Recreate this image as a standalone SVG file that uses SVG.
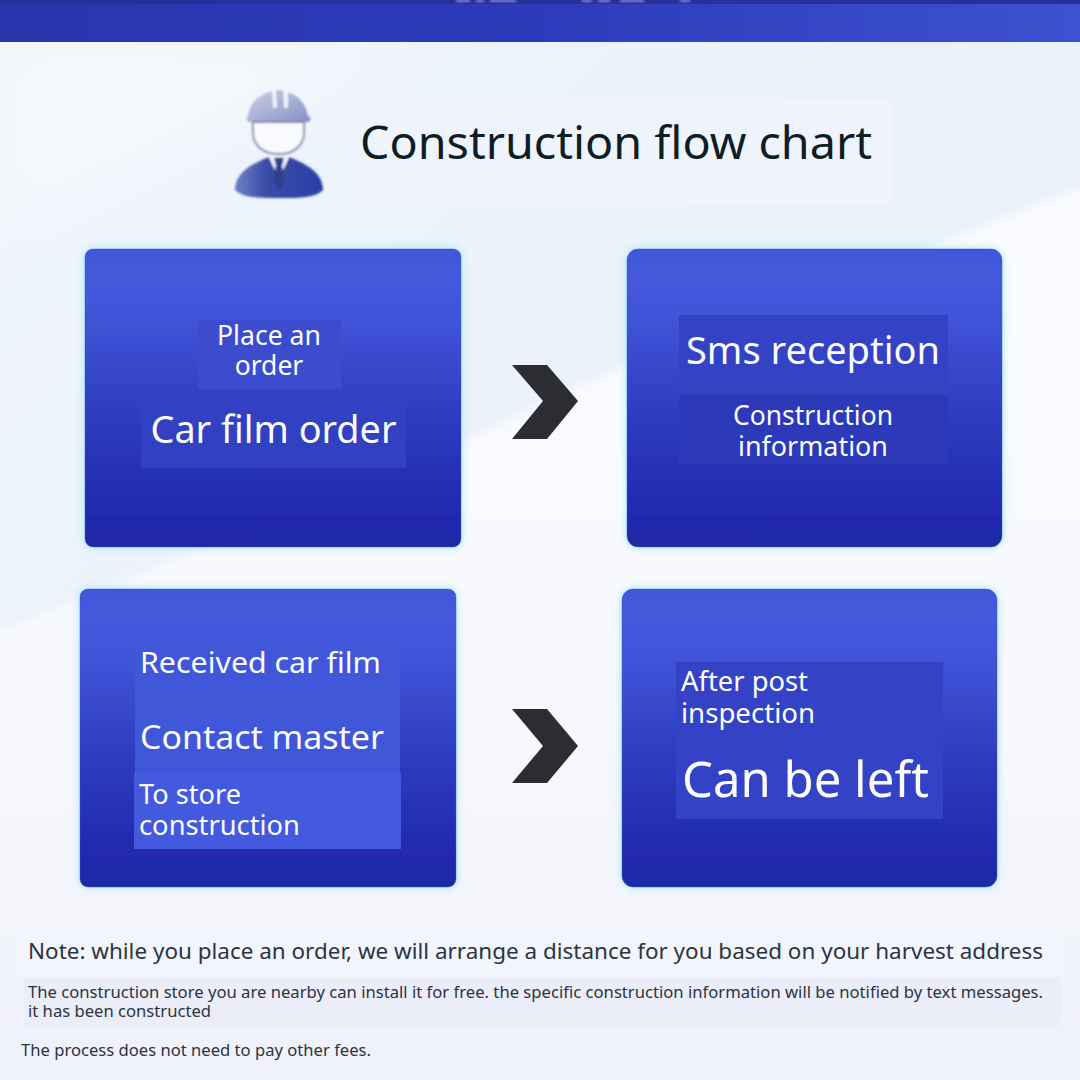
<svg xmlns="http://www.w3.org/2000/svg" width="1080" height="1080" viewBox="0 0 1080 1080">
<style>
text{font-family:"Noto Sans","Open Sans","DejaVu Sans",sans-serif}
.w{fill:#fbfcff}
.d{fill:#2c3440}
.card{fill:url(#cardG);stroke:#2f58b8;stroke-opacity:.55;stroke-width:1;filter:url(#glow)}
.chev{fill:#2c2c33}
</style>
<defs>
<linearGradient id="cardG" x1="0" y1="0" x2="0" y2="1">
<stop offset="0" stop-color="#3f58d8"/><stop offset=".08" stop-color="#465ade"/><stop offset=".25" stop-color="#4053d8"/><stop offset=".55" stop-color="#2e3dc0"/><stop offset=".9" stop-color="#2028ae"/><stop offset="1" stop-color="#1f2aa4"/>
</linearGradient>
<linearGradient id="barG" x1="0" y1="0" x2="1" y2="0">
<stop offset="0" stop-color="#2836ad"/><stop offset=".5" stop-color="#2c3bbb"/><stop offset="1" stop-color="#3d52d0"/>
</linearGradient>
<linearGradient id="bg" x1="0" y1="0" x2="1" y2="1">
<stop offset="0" stop-color="#f1f6fc"/><stop offset=".25" stop-color="#edf3fb"/><stop offset=".55" stop-color="#e9f1fa"/><stop offset="1" stop-color="#e8edf9"/>
</linearGradient>
<linearGradient id="low" x1="0" y1="0" x2="0" y2="1">
<stop offset="0" stop-color="#fafbfe"/><stop offset=".6" stop-color="#f7f8fd"/><stop offset="1" stop-color="#eff1fa"/>
</linearGradient>
<linearGradient id="suit" x1="0" y1="0" x2="1" y2="0">
<stop offset="0" stop-color="#6f80c8"/><stop offset=".35" stop-color="#3a4da8"/><stop offset="1" stop-color="#2a3ea6"/>
</linearGradient>
<linearGradient id="hat" x1="0" y1="0" x2="1" y2="1">
<stop offset="0" stop-color="#ccd1e6"/><stop offset="1" stop-color="#8590c4"/>
</linearGradient>
<filter id="glow" x="-5%" y="-5%" width="110%" height="110%"><feDropShadow dx="0" dy="0" stdDeviation="4" flood-color="#a0e4fb"/></filter>
<filter id="soft"><feGaussianBlur stdDeviation="1"/></filter>
<filter id="blur"><feGaussianBlur stdDeviation="5"/></filter>
<filter id="blur2"><feGaussianBlur stdDeviation="30"/></filter>
</defs>

<g id="background">
<rect width="1080" height="1080" fill="url(#bg)"/>
<path d="M-20 640 L500 425 L580 385 L1100 180 L1100 1100 L-20 1100Z" fill="url(#low)" filter="url(#blur)"/>
<path d="M0 42 L420 42 L0 230Z" fill="#f5f8fd" filter="url(#blur2)"/>
<rect x="352" y="100" width="540" height="104" fill="#eff4fc"/>
<rect x="20" y="925" width="1042" height="52" fill="#f3f5fc"/>
<rect y="0" width="1080" height="42" fill="url(#barG)"/>
<rect y="0" width="1080" height="4" fill="#26319c"/>
<g fill="#cfd6f4" opacity=".6" filter="url(#soft)"><rect x="456" y="0" width="14" height="2"/><rect x="476" y="0" width="8" height="2"/><rect x="490" y="0" width="26" height="2"/><rect x="582" y="0" width="10" height="2"/><rect x="598" y="0" width="12" height="2"/><rect x="620" y="0" width="24" height="2"/><rect x="680" y="0" width="10" height="2"/></g>
</g>

<g id="worker-icon" filter="url(#soft)">
<path d="M248 116 C250 103 258 95 272 91 L273 108 L277 108 L276 90 L283 90 L284 108 L288 108 L288 92 C299 96 306 104 308 116 L311 118 L309 122 L248 122 L246 118 Z" fill="url(#hat)"/>
<path d="M253 122 L304 122 L304 132 C304 146 293 154 279 154 C264 154 253 146 253 132 Z" fill="#f8faff" stroke="#7d84a0" stroke-width="1.800"/>
<path d="M235 190 C235 174 249 165 269 157 L279 178 L289 157 C309 165 323 174 323 190 C315 198 300 198 279 198 C258 198 243 198 235 190 Z" fill="url(#suit)"/>
<path d="M269 157 L279 160 L289 157 L282 172 L276 172Z" fill="#f5f7ff"/>
<path d="M274 158 L284 158 L282 166 L285 182 L279 190 L273 182 L276 166Z" fill="#2f3f8e"/>
</g>

<g id="title"><text x="360" y="159" font-size="46" fill="#0f1d24" textLength="512" lengthAdjust="spacingAndGlyphs">Construction flow chart</text></g>

<g id="connectors">
<path class="chev" d="M512 365 L547 365 L578 401 L547 439 L512 439 L543 401Z"/>
<path class="chev" d="M512 709 L547 709 L578 746 L547 783 L512 783 L543 746Z"/>
</g>

<g id="node-order">
<rect class="card" x="85" y="249" width="376" height="298" rx="8"/>
<rect x="198" y="320" width="143" height="69" fill="#3b4dce"/>
<rect x="141" y="405" width="265" height="63" fill="#3141c2"/>
<text class="w" x="269" y="345" font-size="26.500" text-anchor="middle" textLength="104" lengthAdjust="spacingAndGlyphs">Place an</text>
<text class="w" x="269" y="375" font-size="26.500" text-anchor="middle">order</text>
<text class="w" x="273.500" y="443" font-size="38" text-anchor="middle" textLength="246" lengthAdjust="spacingAndGlyphs">Car film order</text>
</g>

<g id="node-sms">
<rect class="card" x="627" y="249" width="375" height="298" rx="11"/>
<rect x="679" y="315" width="269" height="80" fill="#3443c4"/>
<rect x="679" y="395" width="269" height="69" fill="#2c39b8"/>
<text class="w" x="813" y="364" font-size="38" text-anchor="middle" textLength="254" lengthAdjust="spacingAndGlyphs">Sms reception</text>
<text class="w" x="813" y="425" font-size="27" text-anchor="middle" textLength="160" lengthAdjust="spacingAndGlyphs">Construction</text>
<text class="w" x="813" y="456" font-size="27" text-anchor="middle" textLength="150" lengthAdjust="spacingAndGlyphs">information</text>
</g>

<g id="node-received">
<rect class="card" x="80" y="589" width="376" height="298" rx="8"/>
<rect x="135" y="640" width="265" height="135" fill="#4057da"/>
<rect x="134" y="773" width="267" height="76" fill="#435adf"/>
<text class="w" x="140" y="673" font-size="29" textLength="241" lengthAdjust="spacingAndGlyphs">Received car film</text>
<text class="w" x="140" y="749" font-size="32" textLength="244" lengthAdjust="spacingAndGlyphs">Contact master</text>
<text class="w" x="139" y="804" font-size="28" textLength="102" lengthAdjust="spacingAndGlyphs">To store</text>
<text class="w" x="139" y="835" font-size="28" textLength="161" lengthAdjust="spacingAndGlyphs">construction</text>
</g>

<g id="node-left">
<rect class="card" x="622" y="589" width="375" height="298" rx="11"/>
<rect x="676" y="662" width="267" height="157" fill="#3443c6"/>
<text class="w" x="681" y="691" font-size="28" textLength="127" lengthAdjust="spacingAndGlyphs">After post</text>
<text class="w" x="681" y="723" font-size="28" textLength="134" lengthAdjust="spacingAndGlyphs">inspection</text>
<text class="w" x="682" y="797" font-size="50" textLength="247" lengthAdjust="spacingAndGlyphs">Can be left</text>
</g>

<g id="notes">
<rect x="24" y="977" width="1037" height="49" fill="#ebedf9"/>
<text class="d" x="28" y="959" font-size="22" textLength="1015" lengthAdjust="spacingAndGlyphs">Note: while you place an order, we will arrange a distance for you based on your harvest address</text>
<text class="d" x="28" y="998" font-size="17" textLength="1015" lengthAdjust="spacingAndGlyphs">The construction store you are nearby can install it for free. the specific construction information will be notified by text messages.</text>
<text class="d" x="28" y="1017" font-size="17" textLength="183" lengthAdjust="spacingAndGlyphs">it has been constructed</text>
<text class="d" x="21" y="1056" font-size="17" textLength="350" lengthAdjust="spacingAndGlyphs">The process does not need to pay other fees.</text>
</g>
</svg>
